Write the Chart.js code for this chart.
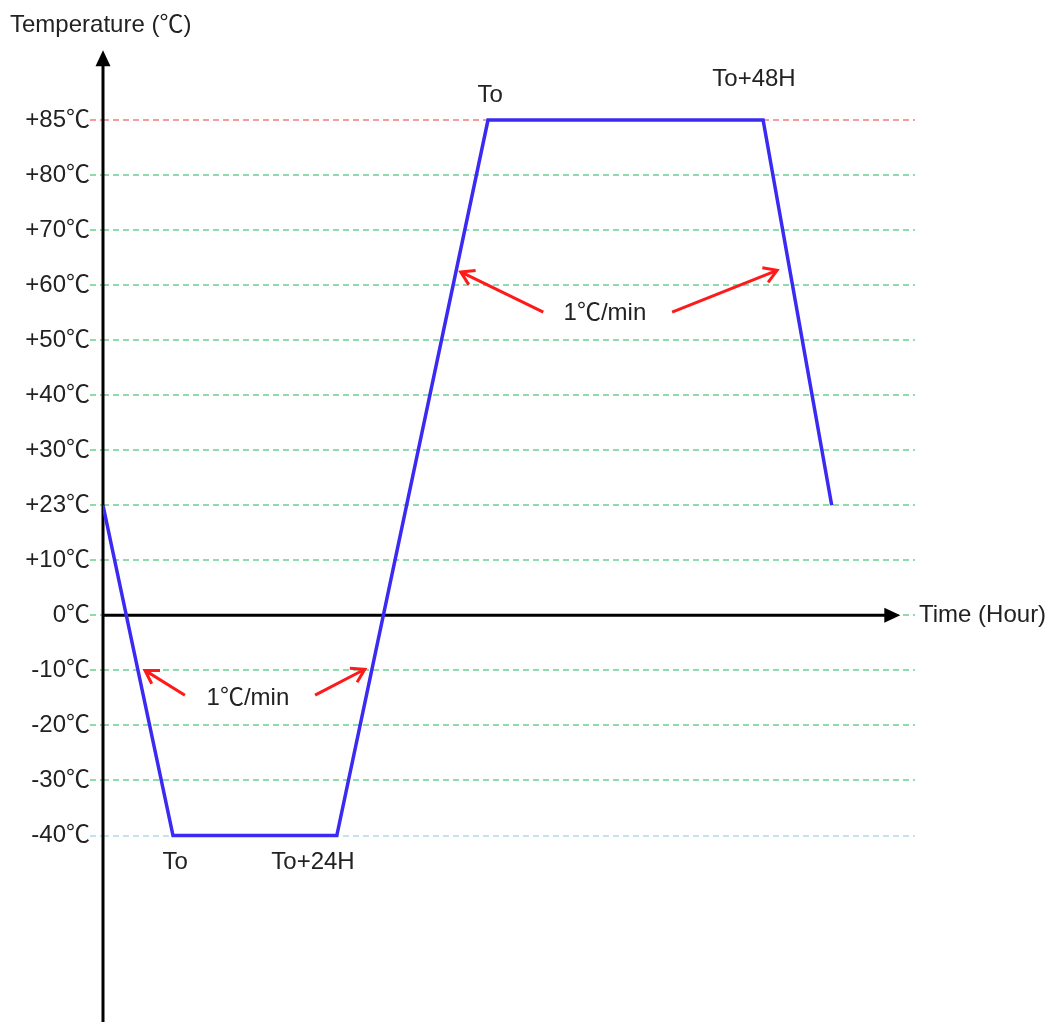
<!DOCTYPE html>
<html lang="en">
<head>
  <meta charset="UTF-8">
  <title>Temperature profile</title>
  <script src="https://cdn.jsdelivr.net/npm/chart.js"></script>
  <style>
    body, html {
      margin: 0;
      background: #fff;
      overflow: hidden;
    }
    canvas {
      display: block;
    }
  </style>
</head>
<body>
  <canvas id="profileChart" width="1051" height="1022"></canvas>

  <script>
    // temperature levels on the y axis (evenly spaced, not linear)
    const tempLevels = [-40, -30, -20, -10, 0, 10, 23, 30, 40, 50, 60, 70, 80, 85];
    const tempLabels = ['-40℃', '-30℃', '-20℃', '-10℃', '0℃', '+10℃', '+23℃',
                        '+30℃', '+40℃', '+50℃', '+60℃', '+70℃', '+80℃', '+85℃'];

    // test profile (time in arbitrary units, temperature in ℃)
    const profileTime = [0, 10, 33.4, 55, 94.3, 104.1];
    const profileTemp = [23, -40, -40, 85, 85, 23];

    const FONT = "'Liberation Sans', Arial, 'Noto Sans CJK SC', sans-serif";
    const ZERO = tempLevels.indexOf(0);
    const level = t => tempLevels.indexOf(t) - ZERO;

    function gridColor(v) {
      if (v === level(85)) return '#f59c9c';
      if (v === level(-40)) return '#c3e4ee';
      return '#90dbae';
    }

    function arrow(ctx, x1, y1, x2, y2) {
      const a = Math.atan2(y2 - y1, x2 - x1);
      const h = 15;
      ctx.beginPath();
      ctx.moveTo(x1, y1);
      ctx.lineTo(x2, y2);
      ctx.moveTo(x2 - h * Math.cos(a - 0.55), y2 - h * Math.sin(a - 0.55));
      ctx.lineTo(x2, y2);
      ctx.lineTo(x2 - h * Math.cos(a + 0.55), y2 - h * Math.sin(a + 0.55));
      ctx.stroke();
    }

    const axesPlugin = {
      id: 'axes',
      beforeDatasetsDraw(chart) {
        const { ctx, scales: { x, y } } = chart;
        const x0 = x.getPixelForValue(0);
        const y0 = y.getPixelForValue(0);
        const top = y.getPixelForValue(10.27);
        const right = x.getPixelForValue(113.9);
        ctx.save();
        ctx.strokeStyle = '#000';
        ctx.fillStyle = '#000';
        ctx.lineWidth = 3;
        ctx.beginPath();
        ctx.moveTo(x0, chart.height);
        ctx.lineTo(x0, top + 14);
        ctx.moveTo(x0, y0);
        ctx.lineTo(right - 14, y0);
        ctx.stroke();
        ctx.beginPath();
        ctx.moveTo(x0, top);
        ctx.lineTo(x0 - 7.5, top + 16);
        ctx.lineTo(x0 + 7.5, top + 16);
        ctx.closePath();
        ctx.fill();
        ctx.beginPath();
        ctx.moveTo(right, y0);
        ctx.lineTo(right - 16, y0 - 7.5);
        ctx.lineTo(right - 16, y0 + 7.5);
        ctx.closePath();
        ctx.fill();
        ctx.restore();
      },
      afterDatasetsDraw(chart) {
        const { ctx, chartArea, scales: { x, y } } = chart;
        const px = v => x.getPixelForValue(v);
        const py = v => y.getPixelForValue(v);
        ctx.save();
        // rate arrows
        ctx.strokeStyle = '#ff1a1a';
        ctx.lineWidth = 3;
        arrow(ctx, px(11.7), py(-1.45), px(6), py(-1));
        arrow(ctx, px(30.3), py(-1.45), px(37.4), py(-0.98));
        arrow(ctx, px(62.9), py(5.51), px(51.1), py(6.24));
        arrow(ctx, px(81.3), py(5.51), px(96.3), py(6.27));

        ctx.fillStyle = '#222';
        ctx.font = '24px ' + FONT;
        ctx.textBaseline = 'middle';
        ctx.textAlign = 'center';
        ctx.fillText('1℃/min', px(20.7), py(-1.51));
        ctx.fillText('1℃/min', px(71.7), py(5.49));
        ctx.fillText('To', px(55.3), py(9.45));
        ctx.fillText('To+48H', px(93), py(9.73));
        ctx.fillText('To', px(10.3), py(-4.49));
        ctx.fillText('To+24H', px(30), py(-4.49));

        ctx.textAlign = 'left';
        ctx.fillText('Time (Hour)', chartArea.right + 4, py(0));
        ctx.fillText('Temperature (℃)', 10, 25);
        ctx.restore();
      }
    };

    new Chart(document.getElementById('profileChart'), {
      type: 'line',
      data: {
        datasets: [{
          data: profileTime.map((t, i) => ({ x: t, y: level(profileTemp[i]) })),
          borderColor: '#3b2af2',
          borderWidth: 3.5,
          pointRadius: 0,
          tension: 0
        }]
      },
      options: {
        responsive: false,
        animation: false,
        layout: {
          padding: { top: 52, right: 136, bottom: 0, left: 0 }
        },
        plugins: {
          legend: { display: false },
          tooltip: { enabled: false }
        },
        scales: {
          x: {
            type: 'linear',
            display: false,
            min: 0,
            max: 116
          },
          y: {
            type: 'linear',
            min: -7.127,
            max: 10.236,
            afterFit(scale) { scale.width = 103; },
            afterBuildTicks(scale) {
              scale.ticks = tempLevels.map((t, i) => ({ value: i - ZERO }));
            },
            ticks: {
              padding: 0,
              color: '#222',
              font: { family: FONT, size: 24 },
              callback: v => tempLabels[v + ZERO]
            },
            border: { display: false, dash: [6, 4] },
            grid: {
              color: c => gridColor(c.tick.value),
              lineWidth: 2,
              tickLength: 13,
              tickBorderDash: [6, 4]
            }
          }
        }
      },
      plugins: [axesPlugin]
    });
  </script>
</body>
</html>
